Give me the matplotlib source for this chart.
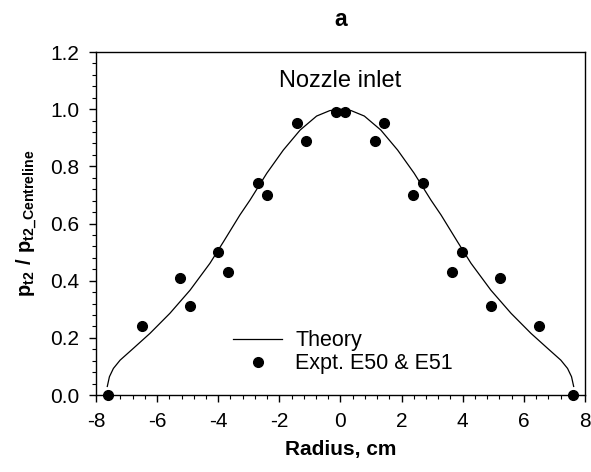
import matplotlib
matplotlib.use("Agg")
import matplotlib.pyplot as plt
from matplotlib.ticker import MultipleLocator

plt.rcParams["font.family"] = ["Liberation Sans", "DejaVu Sans"]
plt.rcParams["mathtext.fontset"] = "custom"
plt.rcParams["mathtext.rm"] = "Liberation Sans"
plt.rcParams["mathtext.bf"] = "Liberation Sans:bold"

# theory profile, pitot pressure ratio across the nozzle inlet
theory_r = [-7.63, -7.56, -7.43, -7.21, -6.78, -6.23, -5.58, -4.92, -4.27, -3.83,
            -3.29, -2.96, -2.41, -1.87, -1.32, -0.78, -0.35, 0.0,
            0.35, 0.78, 1.32, 1.87, 2.41, 2.96, 3.29, 3.83, 4.27, 4.92,
            5.58, 6.23, 6.78, 7.21, 7.43, 7.56, 7.63]
theory_p = [0.03, 0.064, 0.093, 0.122, 0.163, 0.216, 0.286, 0.367, 0.461, 0.536,
            0.63, 0.682, 0.776, 0.857, 0.927, 0.976, 0.995, 1.0,
            0.995, 0.976, 0.927, 0.857, 0.776, 0.682, 0.63, 0.536, 0.461, 0.367,
            0.286, 0.216, 0.163, 0.122, 0.093, 0.064, 0.03]

# experiments E50 & E51
expt_r = [-7.62, -6.5, -5.25, -4.93, -4.0, -3.67, -2.7, -2.4, -1.43, -1.14, -0.16,
          0.16, 1.12, 1.43, 2.38, 2.69, 3.66, 3.97, 4.93, 5.23, 6.5, 7.62]
expt_p = [0.0, 0.24, 0.41, 0.31, 0.50, 0.43, 0.74, 0.70, 0.95, 0.89, 0.99,
          0.99, 0.89, 0.95, 0.70, 0.74, 0.43, 0.50, 0.31, 0.41, 0.24, 0.0]

fig = plt.figure(figsize=(5.91, 4.72), dpi=100)
ax = fig.add_axes([0.1624, 0.1631, 0.8274, 0.7267])

ax.plot(theory_r, theory_p, color="black", lw=0.9, label="Theory")
ax.plot(expt_r, expt_p, "o", color="black", ms=7, label="Expt. E50 & E51",
        clip_on=False, zorder=5)

ax.set_xlim(-8, 8)
ax.set_ylim(0, 1.2)
ax.xaxis.set_minor_locator(MultipleLocator(0.4))
ax.yaxis.set_minor_locator(MultipleLocator(0.04))
ax.set_xticks(range(-8, 9, 2))
ax.set_xticklabels([str(v) for v in range(-8, 9, 2)])
ax.set_yticks([0.0, 0.2, 0.4, 0.6, 0.8, 1.0, 1.2])
ax.set_yticklabels(["0.0", "0.2", "0.4", "0.6", "0.8", "1.0", "1.2"])
ax.tick_params(which="major", direction="out", length=5, width=1, labelsize=15, pad=7)
ax.tick_params(which="minor", direction="out", length=3, width=0.8)
for s in ax.spines.values():
    s.set_linewidth(1)

ax.set_xlabel("Radius, cm", fontsize=15, fontweight="bold", labelpad=7)
ax.set_ylabel(r"$\mathbf{p_{t2}\ /\ p_{t2\_Centreline}}$", fontsize=14.5, labelpad=8)
ax.set_title("a", fontsize=16.5, fontweight="bold", pad=19)

ax.text(0, 1.10, "Nozzle inlet", ha="center", va="center", fontsize=17)

ax.legend(loc="center left", bbox_to_anchor=(0.258, 0.125), frameon=False,
          fontsize=15.5, handlelength=2.3, handletextpad=0.6, labelspacing=0.1,
          borderpad=0, numpoints=1)

fig.savefig("out.png", dpi=100)
